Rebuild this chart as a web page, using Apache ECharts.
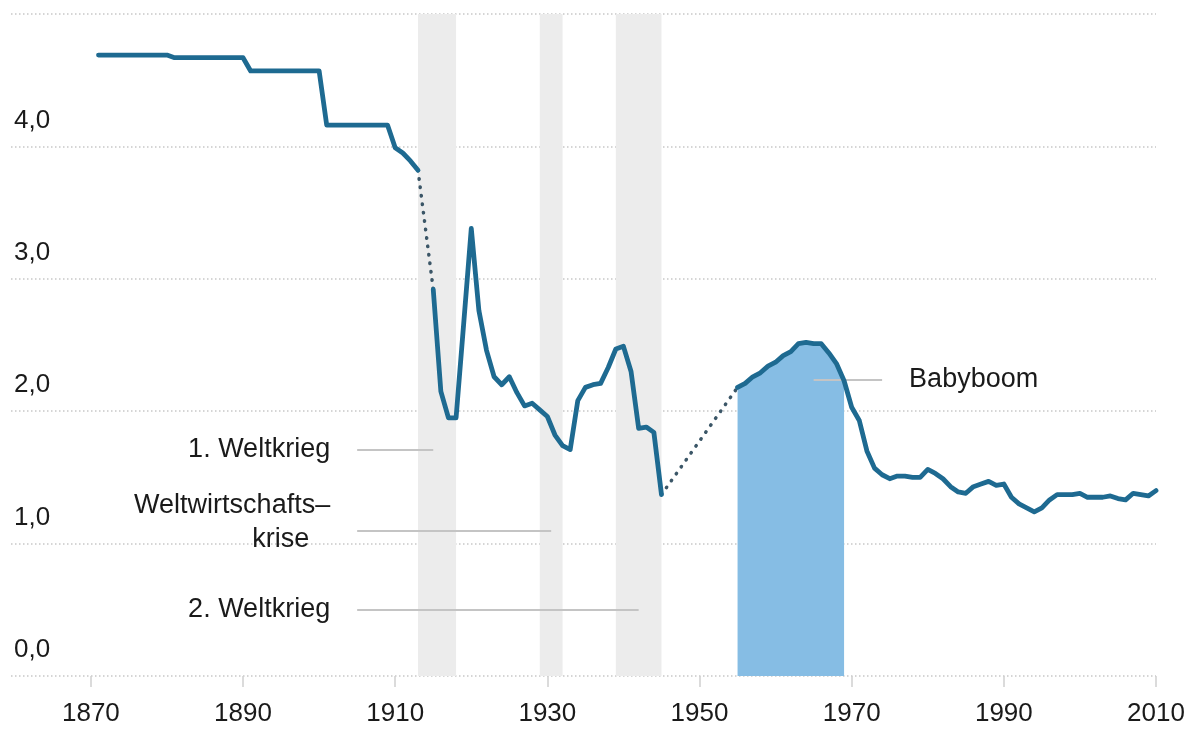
<!DOCTYPE html>
<html>
<head>
<meta charset="utf-8">
<script src="https://cdn.jsdelivr.net/npm/echarts@6/dist/echarts.min.js"></script>
<style>
  html, body { margin: 0; padding: 0; background: #fff; }
  #chart { width: 1192px; height: 738px; }
</style>
</head>
<body>
<div id="chart"></div>
<script>
// Geburtenziffer (Kinder je Frau)
var preYears = [1871, 1880, 1881, 1890, 1891, 1900, 1901, 1909, 1910, 1911, 1912, 1913];
var preValues = [4.69, 4.69, 4.67, 4.67, 4.57, 4.57, 4.16, 4.16, 3.99, 3.95, 3.89, 3.82];

var warYears = [1915, 1916, 1917, 1918, 1919, 1920, 1921, 1922, 1923, 1924,
                1925, 1926, 1927, 1928, 1929, 1930, 1931, 1932, 1933, 1934,
                1935, 1936, 1937, 1938, 1939, 1940, 1941, 1942, 1943, 1944, 1945];
var warValues = [2.92, 2.15, 1.95, 1.95, 2.66, 3.38, 2.76, 2.46, 2.26, 2.20,
                 2.26, 2.14, 2.04, 2.06, 2.01, 1.96, 1.82, 1.74, 1.71, 2.08,
                 2.18, 2.20, 2.21, 2.33, 2.47, 2.49, 2.30, 1.87, 1.88, 1.84, 1.37];

var postYears = [1955, 1956, 1957, 1958, 1959, 1960, 1961, 1962, 1963, 1964, 1965,
                 1966, 1967, 1968, 1969, 1970, 1971, 1972, 1973, 1974, 1975,
                 1976, 1977, 1978, 1979, 1980, 1981, 1982, 1983, 1984, 1985,
                 1986, 1987, 1988, 1989, 1990, 1991, 1992, 1993, 1994, 1995,
                 1996, 1997, 1998, 1999, 2000, 2001, 2002, 2003, 2004, 2005,
                 2006, 2007, 2008, 2009, 2010];
var postValues = [2.18, 2.21, 2.26, 2.29, 2.34, 2.37, 2.42, 2.45, 2.51, 2.52, 2.51,
                  2.51, 2.44, 2.36, 2.23, 2.03, 1.93, 1.70, 1.57, 1.52, 1.49,
                  1.51, 1.51, 1.50, 1.50, 1.56, 1.53, 1.49, 1.43, 1.39, 1.38,
                  1.43, 1.45, 1.47, 1.44, 1.45, 1.35, 1.30, 1.27, 1.24, 1.27,
                  1.33, 1.37, 1.37, 1.37, 1.38, 1.35, 1.35, 1.35, 1.36, 1.34,
                  1.33, 1.38, 1.37, 1.36, 1.40];

// Babyboom-Flaeche
var boomStart = 1955;
var boomEnd = 1969;

// graue Zeitraeume
var bands = [
  { name: '1. Weltkrieg', from: 1913, to: 1918 },
  { name: 'Weltwirtschaftskrise', from: 1929, to: 1932 },
  { name: '2. Weltkrieg', from: 1939, to: 1945 }
];

// Beschriftungen mit Hinweislinien
var notes = [
  { text: '1. Weltkrieg', from: 1905, to: 1915, value: 1.71, side: 'start' },
  { text: '{a|Weltwirtschafts–}\n{b|krise}', from: 1905, to: 1930.5, value: 1.10, side: 'start' },
  { text: '2. Weltkrieg', from: 1905, to: 1942, value: 0.50, side: 'start' },
  { text: 'Babyboom', from: 1965, to: 1974, value: 2.24, side: 'end' }
];

var xTicks = [1870, 1890, 1910, 1930, 1950, 1970, 1990, 2010];

var FONT = '"Liberation Sans", Arial, Helvetica, sans-serif';
var FONT_SIZE = 26;
var NOTE_SIZE = 27;
var TEXT_COLOR = '#1a1a1a';
var LINE_COLOR = '#1e6a91';

function pairs(xs, ys) {
  var out = [];
  for (var i = 0; i < xs.length; i++) {
    out.push([xs[i], ys[i]]);
  }
  return out;
}

var preData = pairs(preYears, preValues);
var warData = pairs(warYears, warValues);
var postData = pairs(postYears, postValues);

var boomData = postData.filter(function (d) {
  return d[0] >= boomStart && d[0] <= boomEnd;
});

// gepunktete Luecken
var gap1 = [preData[preData.length - 1], warData[0]];
var gap2 = [warData[warData.length - 1], postData[0]];

function solidSeries(data) {
  return {
    type: 'line',
    data: data,
    symbol: 'none',
    z: 5,
    lineStyle: { color: LINE_COLOR, width: 4.8, join: 'round', cap: 'round' }
  };
}

function dottedSeries(data) {
  return {
    type: 'line',
    data: data,
    symbol: 'none',
    z: 4,
    lineStyle: { color: '#3b5667', width: 3.5, type: [0.5, 8], cap: 'round' }
  };
}

var noteLines = notes.map(function (n) {
  return [
    {
      name: n.text,
      coord: [n.from, n.value],
      label: { position: n.side }
    },
    { coord: [n.to, n.value] }
  ];
});

var bandAreas = bands.map(function (b) {
  return [{ name: b.name, xAxis: b.from }, { xAxis: b.to }];
});

var chart = echarts.init(document.getElementById('chart'));

var option = {
  animation: false,
  backgroundColor: '#fff',
  grid: { left: 11, right: 36, top: 14, bottom: 62 },
  xAxis: {
    type: 'value',
    min: 1859.5,
    max: 2010,
    offset: 10,
    axisLine: { show: false },
    splitLine: { show: false },
    axisTick: {
      show: true,
      customValues: xTicks,
      length: 11,
      lineStyle: { color: '#d0d0d0', width: 1.5 }
    },
    axisLabel: {
      customValues: xTicks,
      margin: 15,
      fontSize: FONT_SIZE,
      color: TEXT_COLOR,
      fontFamily: FONT,
      formatter: function (v) { return String(v); }
    }
  },
  yAxis: {
    type: 'value',
    min: 0,
    max: 5,
    interval: 1,
    axisLine: { show: false },
    axisTick: { show: false },
    splitLine: {
      show: true,
      lineStyle: { color: '#c8c8c8', width: 1.5, type: [1.5, 2.5] }
    },
    axisLabel: {
      inside: true,
      margin: 3,
      verticalAlign: 'bottom',
      padding: [0, 0, 13, 0],
      fontSize: FONT_SIZE,
      color: TEXT_COLOR,
      fontFamily: FONT,
      formatter: function (v) {
        if (v >= 5) return '';
        return v.toFixed(1).replace('.', ',');
      }
    }
  },
  series: [
    {
      // Babyboom
      type: 'line',
      data: boomData,
      symbol: 'none',
      z: 2,
      lineStyle: { width: 0 },
      areaStyle: { color: '#86bde4', opacity: 1 },
      markArea: {
        silent: true,
        label: { show: false },
        itemStyle: { color: '#ececec' },
        data: bandAreas
      }
    },
    solidSeries(preData),
    solidSeries(warData),
    solidSeries(postData),
    dottedSeries(gap1),
    dottedSeries(gap2),
    {
      // Hinweislinien und Texte
      type: 'line',
      data: [],
      markLine: {
        silent: true,
        symbol: 'none',
        lineStyle: { color: '#c4c4c4', width: 2, type: 'solid' },
        label: {
          formatter: '{b}',
          distance: 27,
          fontSize: NOTE_SIZE,
          color: TEXT_COLOR,
          fontFamily: FONT,
          rich: {
            a: { fontSize: NOTE_SIZE, color: TEXT_COLOR, fontFamily: FONT, padding: [0, 0, 7, 0] },
            b: { fontSize: NOTE_SIZE, color: TEXT_COLOR, fontFamily: FONT, padding: [0, 21, 16, 0] }
          }
        },
        data: noteLines
      }
    }
  ]
};

chart.setOption(option);
</script>
</body>
</html>
